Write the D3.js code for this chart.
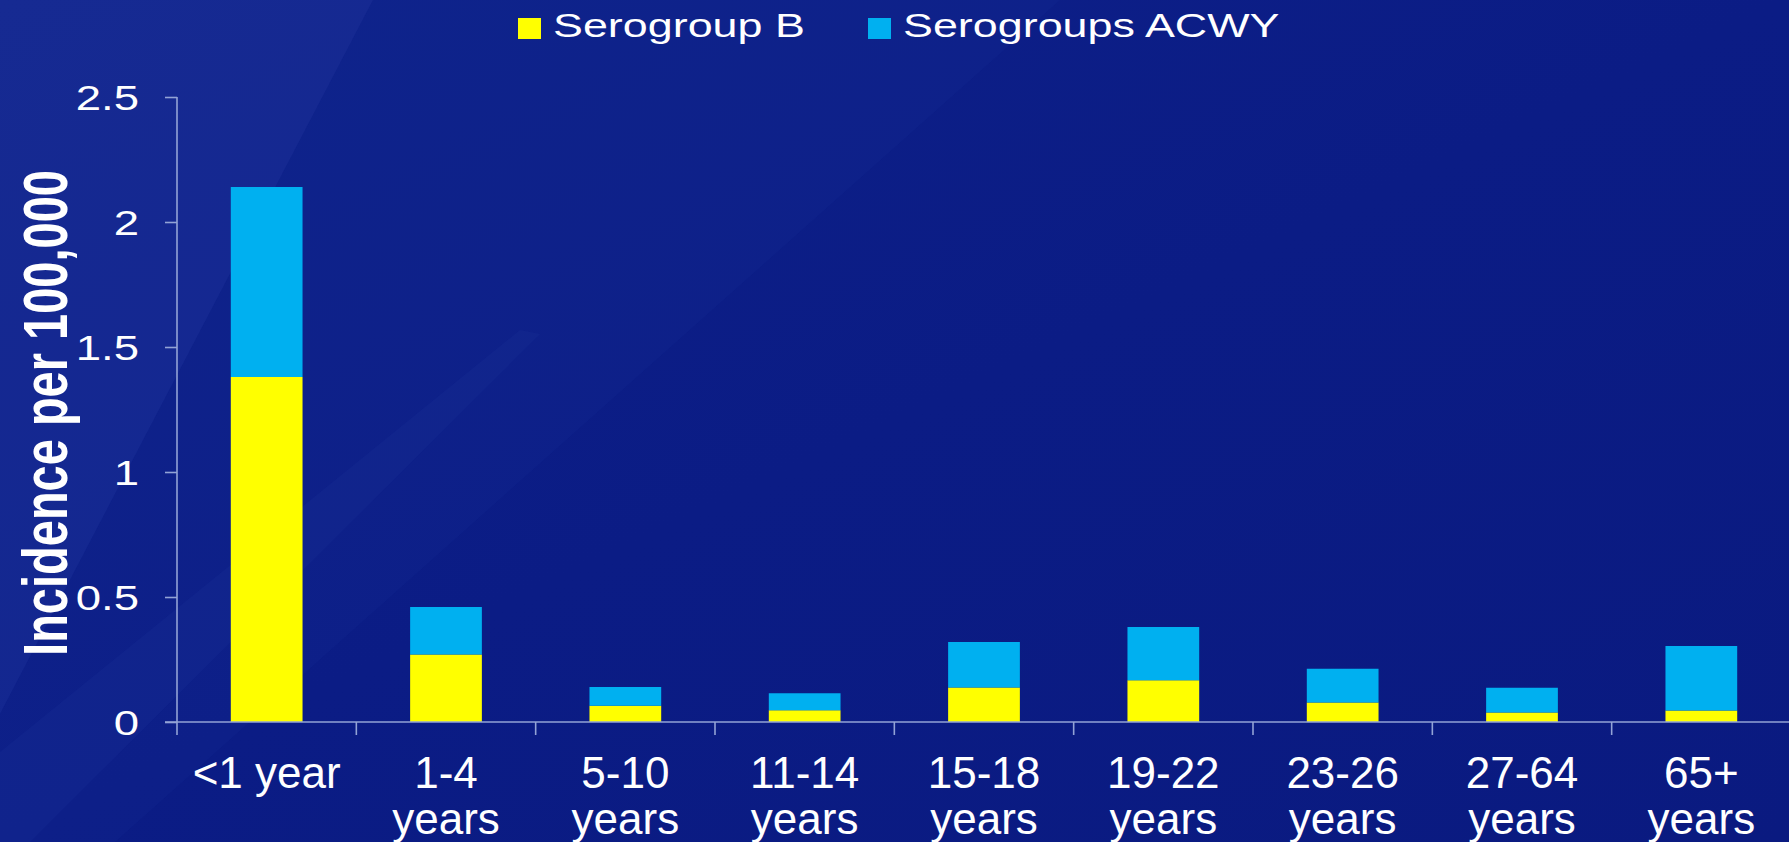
<!DOCTYPE html>
<html>
<head>
<meta charset="utf-8">
<script src="https://cdn.jsdelivr.net/npm/d3@7/dist/d3.min.js"></script>
<style>
  html, body { margin: 0; padding: 0; background: #0b1c86; overflow: hidden; }
  svg { display: block; font-family: "Liberation Sans", Arial, sans-serif; }
</style>
</head>
<body>
<svg id="chart" width="1789" height="842"></svg>
<script>
// Age groups (two-line labels)
const categories = ["<1 year", "1-4 years", "5-10 years", "11-14 years", "15-18 years",
                    "19-22 years", "23-26 years", "27-64 years", "65+ years"];
const labelLines = [["<1 year"], ["1-4", "years"], ["5-10", "years"], ["11-14", "years"],
                    ["15-18", "years"], ["19-22", "years"], ["23-26", "years"],
                    ["27-64", "years"], ["65+", "years"]];
// Incidence per 100,000, stacked: serogroup B at the bottom, ACWY on top
const serogroupB    = [1.38, 0.27, 0.065, 0.047, 0.138, 0.167, 0.078, 0.038, 0.046];
const serogroupACWY = [0.76, 0.19, 0.075, 0.068, 0.182, 0.213, 0.135, 0.099, 0.258];
const seriesNames = ["Serogroup B", "Serogroups ACWY"];
const seriesColors = ["#ffff00", "#00b0f0"];
const yTicks = [0, 0.5, 1, 1.5, 2, 2.5];

const W = 1789, H = 842;
const svg = d3.select("#chart");

// Background: deep blue slide with faintly lighter diagonal panels on the left
const defs = svg.append("defs");
const bg = defs.append("linearGradient").attr("id", "bg")
  .attr("x1", "0").attr("y1", "0").attr("x2", "1").attr("y2", "1");
bg.append("stop").attr("offset", "0").attr("stop-color", "#0e2189");
bg.append("stop").attr("offset", "0.5").attr("stop-color", "#0b1c85");
bg.append("stop").attr("offset", "1").attr("stop-color", "#0a1a80");
svg.append("rect").attr("width", W).attr("height", H).attr("fill", "url(#bg)");
// middle panel between the two diagonals
svg.append("polygon").attr("points", "373,0 1060,0 115,842 0,842 0,714")
  .attr("fill", "#2a48b0").attr("opacity", 0.08);
// top-left corner panel
svg.append("polygon").attr("points", "0,0 373,0 0,714")
  .attr("fill", "#3552b8").attr("opacity", 0.2);
// faint streak at the lower left
svg.append("polygon").attr("points", "0,842 0,752 520,330 540,334 30,842")
  .attr("fill", "#4a66c8").attr("opacity", 0.06);

const plot = { left: 177, right: 1791, top: 97, bottom: 722 };

const x = d3.scaleBand().domain(categories).range([plot.left, plot.right]).padding(0);
const y = d3.scaleLinear().domain([0, 2.5]).range([plot.bottom, plot.top]);
const barW = x.bandwidth() * 0.4;

// Stacked bars
const rows = categories.map((c, i) => ({ cat: c, b: serogroupB[i], acwy: serogroupACWY[i] }));
const stack = d3.stack().keys(["b", "acwy"])(rows);
stack.forEach((layer, li) => {
  svg.append("g").selectAll("rect").data(layer).join("rect")
    .attr("x", d => x(d.data.cat) + (x.bandwidth() - barW) / 2)
    .attr("width", barW)
    .attr("y", d => y(d[1]))
    .attr("height", d => y(d[0]) - y(d[1]))
    .attr("fill", seriesColors[li]);
});

const axisColor = "#93a3d6";

// Y axis
const yAxis = svg.append("g").attr("transform", `translate(${plot.left},0)`)
  .call(d3.axisLeft(y).tickValues(yTicks).tickSize(12).tickFormat(""));
yAxis.select(".domain").attr("stroke", axisColor).attr("stroke-width", 1.6)
  .attr("d", `M0,${plot.top}V${plot.bottom}`);
yAxis.selectAll(".tick line").attr("stroke", axisColor).attr("stroke-width", 1.6);

svg.append("g").selectAll("text").data(yTicks).join("text")
  .attr("transform", d => `translate(139,${y(d)}) scale(1.3,1)`)
  .attr("text-anchor", "end").attr("dy", "0.36em")
  .attr("fill", "#ffffff").attr("font-size", 35)
  .text(d => d3.format("")(d));

// X axis: ticks at category boundaries
const bounds = categories.map(c => x(c)).concat([plot.right]);
const xAxis = svg.append("g");
xAxis.append("line").attr("x1", plot.left - 12).attr("x2", plot.right)
  .attr("y1", plot.bottom).attr("y2", plot.bottom)
  .attr("stroke", axisColor).attr("stroke-width", 1.6);
xAxis.selectAll(".tk").data(bounds).join("line").attr("class", "tk")
  .attr("x1", d => d).attr("x2", d => d)
  .attr("y1", plot.bottom).attr("y2", plot.bottom + 13)
  .attr("stroke", axisColor).attr("stroke-width", 1.6);

// Category labels
const lbl = svg.append("g").selectAll("text").data(categories).join("text")
  .attr("text-anchor", "middle").attr("fill", "#ffffff").attr("font-size", 44)
  .attr("x", c => x(c) + x.bandwidth() / 2).attr("y", 788);
lbl.each(function (c, i) {
  const t = d3.select(this);
  labelLines[i].forEach((line, j) => {
    t.append("tspan").attr("x", x(c) + x.bandwidth() / 2)
      .attr("dy", j === 0 ? 0 : 46).text(line);
  });
});

// Y axis title
svg.append("text")
  .attr("transform", "translate(67,413) scale(1.32,1) rotate(-90)")
  .attr("text-anchor", "middle").attr("fill", "#ffffff")
  .attr("font-size", 47).attr("font-weight", "bold")
  .text("Incidence per 100,000");

// Legend
const legendX = [518, 868];
const legend = svg.append("g");
seriesNames.forEach((name, i) => {
  legend.append("rect").attr("x", legendX[i]).attr("y", 18)
    .attr("width", 23).attr("height", 21).attr("fill", seriesColors[i]);
  legend.append("text")
    .attr("transform", `translate(${legendX[i] + 35},37) scale(1.32,1)`)
    .attr("fill", "#ffffff").attr("font-size", 34).text(name);
});
</script>
</body>
</html>
